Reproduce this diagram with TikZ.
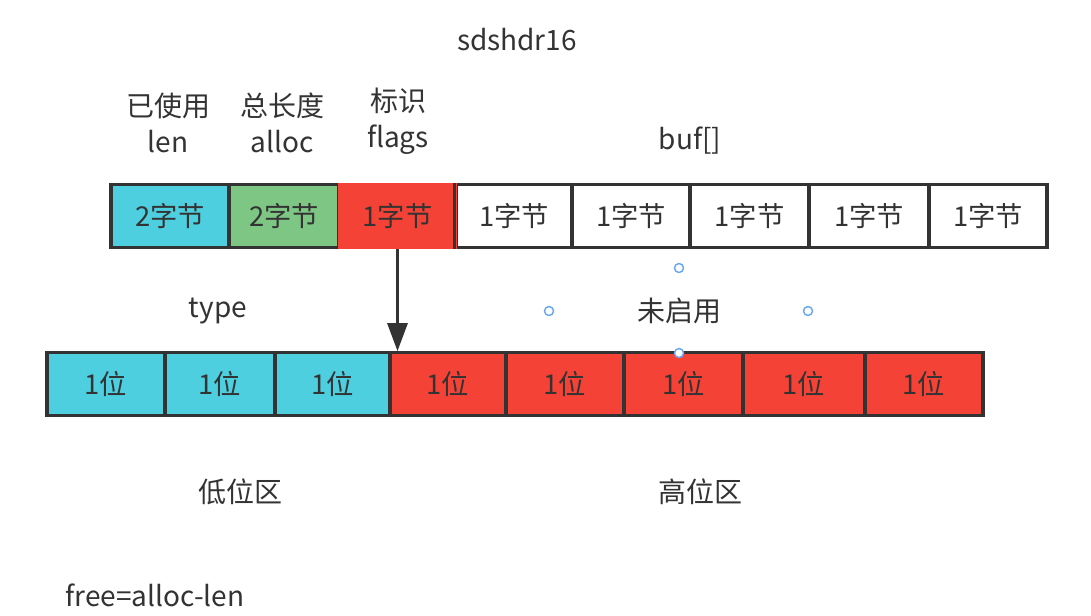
\documentclass[tikz,border=0pt]{standalone}
\usepackage{fontspec}
\setmainfont{Noto Sans CJK SC}
\usetikzlibrary{arrows.meta}
\definecolor{cellcyan}{HTML}{4DCFE0}
\definecolor{cellgreen}{HTML}{7EC683}
\definecolor{cellred}{HTML}{F44336}
\definecolor{ink}{HTML}{333333}
\definecolor{handle}{HTML}{6AA8F2}
\tikzset{
  cell/.style={draw=ink, line width=2.3pt, minimum height=47pt,
    inner sep=0pt, font=\fontsize{20.5}{22}\selectfont, text=ink},
  lbl/.style={font=\fontsize{21}{27}\selectfont, text=ink, align=center},
  grip/.style={draw=handle, line width=1.1pt, fill=white}
}

\begin{document}
\begin{tikzpicture}[x=0.75pt,y=-0.75pt]
\useasboundingbox[fill=white] (0,0) rectangle (1091,615);

% top row: sdshdr16 bytes
\foreach \i/\a/\b/\c/\t in {1/111/229/cellcyan/2字节, 2/229/339/cellgreen/2字节,
    3/339/456/cellred/1字节, 4/456/572/white/1字节, 5/572/690/white/1字节,
    6/690/809/white/1字节, 7/809/929/white/1字节, 8/929/1047/white/1字节}
  \node[cell, fill=\c, minimum width={(\b-\a)*0.75pt}] (t\i) at ({(\a+\b)/2},216) {\t};
\node[cell, fill=cellred, draw=cellred, minimum width={115*0.75pt}] at (t3) {1字节};
\draw[ink, line width=2.3pt] (t4.north west) -- (t4.south west);

% bottom row: flags bits
\foreach \i/\a/\b/\c in {1/47/165/cellcyan, 2/165/275/cellcyan, 3/275/390/cellcyan,
    4/390/506/cellred, 5/506/624/cellred, 6/624/743/cellred,
    7/743/865/cellred, 8/865/983/cellred}
  \node[cell, fill=\c, minimum width={(\b-\a)*0.75pt}] (b\i) at ({(\a+\b)/2},384) {1位};

\draw[ink, line width=2.3pt, -{Triangle[length=21pt,width=15pt]}] (t3.south) -- (t3.south |- b4.north);

% labels
\node[lbl] (title) at (517,40) {sdshdr16};
\node[lbl] (len) at (168,123) {已使用\\len};
\node[lbl] (alloc) at (282,123) {总长度\\alloc};
\node[lbl] (flags) at (398,121) {标识\\flags};
\node[lbl] (buf) at (690,141) {buf[]};
\node[lbl] (type) at (218,311) {type};
\node[lbl] (unused) at (679,311) {未启用};
\node[lbl] (low) at (240,492) {低位区};
\node[lbl] (high) at (700,492) {高位区};
\node[lbl] (free) at (155,595) {free=alloc-len};

% selection handles
\foreach \x/\y in {679/268, 549/311, 808/311, 679/353}
  \draw[grip] (\x,\y) circle (4.5);
\end{tikzpicture}
\end{document}
